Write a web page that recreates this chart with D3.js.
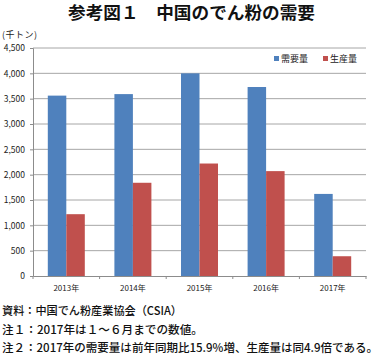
<!DOCTYPE html>
<html><head><meta charset="utf-8">
<script src="https://cdn.jsdelivr.net/npm/d3@7"></script>
<style>body{margin:0;background:#fff}svg{display:block}text{font-family:"Noto Sans CJK JP","Noto Sans",sans-serif}</style>
</head><body>
<script>
const categories = ["2013年","2014年","2015年","2016年","2017年"];
const seriesNames = ["需要量","生産量"];
const demand = [3560, 3590, 4000, 3730, 1620];
const production = [1220, 1840, 2220, 2070, 390];
const yTicks = [0,500,1000,1500,2000,2500,3000,3500,4000,4500];
const colors = ["#4F81BD","#C0504D"];
const title = "参考図１　中国のでん粉の需要";
const unit = "(千トン)";
const notes = ["資料：中国でん粉産業協会（CSIA）","注１：2017年は１～６月までの数値。","注２：2017年の需要量は前年同期比15.9%増、生産量は同4.9倍である。"];

const W=380,H=354;
const svg=d3.select("body").append("svg").attr("width",W).attr("height",H);
const m={l:33,r:366,t:48,b:276};
const x=d3.scaleBand().domain(categories).range([m.l,m.r]);
const xs=d3.scaleBand().domain(seriesNames).range([0,37]);
const y=d3.scaleLinear().domain([0,4500]).range([m.b,m.t]);

svg.append("text").attr("x",68).attr("y",19).attr("textLength",247).attr("lengthAdjust","spacingAndGlyphs")
  .attr("font-size",16.5).attr("font-weight","bold").attr("fill","#111").text(title);
svg.append("text").attr("x",2).attr("y",38).attr("font-size",9).attr("textLength",35).attr("fill","#222").text(unit);

// gridlines
svg.append("g").selectAll("line").data(yTicks.filter(d=>d>0)).join("line")
  .attr("x1",m.l).attr("x2",m.r).attr("y1",d=>y(d)).attr("y2",d=>y(d))
  .attr("stroke","#a6a6a6").attr("stroke-width",1);

// y axis
const ya=svg.append("g").attr("transform",`translate(${m.l},0)`)
  .call(d3.axisLeft(y).tickValues(yTicks).tickFormat(d3.format(",")).tickSize(3).tickPadding(5));
ya.select(".domain").attr("stroke","#8c8c8c");
ya.selectAll(".tick line").attr("stroke","#8c8c8c");
ya.selectAll("text").attr("font-size",8.5).attr("fill","#222").attr("font-family","Liberation Sans, Arial, sans-serif");

// bars
const data=categories.map((c,i)=>({c,vals:[demand[i],production[i]]}));
const g=svg.append("g");
data.forEach(d=>{
  d.vals.forEach((v,j)=>{
    g.append("rect").attr("x",x(d.c)+x.bandwidth()/2-18.5+xs(seriesNames[j]))
      .attr("width",xs.bandwidth()).attr("y",y(v)).attr("height",y(0)-y(v)).attr("fill",colors[j]);
  });
});

// x axis
const xa=svg.append("g").attr("transform",`translate(0,${m.b})`)
  .call(d3.axisBottom(x).tickSize(0).tickPadding(9));
xa.select(".domain").attr("stroke","#8c8c8c");
xa.selectAll("text").attr("font-size",8).attr("fill","#222");
svg.append("g").selectAll("line").data(d3.range(categories.length+1)).join("line")
  .attr("x1",i=>m.l+i*x.step()).attr("x2",i=>m.l+i*x.step()).attr("y1",m.b).attr("y2",m.b+3)
  .attr("stroke","#8c8c8c");

// legend
const lx=[274,323];
seriesNames.forEach((s,j)=>{
  svg.append("rect").attr("x",lx[j]).attr("y",56).attr("width",5).attr("height",5).attr("fill",colors[j]);
  svg.append("text").attr("x",lx[j]+7).attr("y",62).attr("font-size",9).attr("fill","#222").text(s);
});

// notes
const noteEnds=[182,203,378];
notes.forEach((t,i)=>{
  svg.append("text").attr("x",2).attr("y",315+i*18.5).attr("font-size",11.5).attr("font-weight",500).attr("fill","#111")
    .attr("textLength",noteEnds[i]-2).attr("lengthAdjust","spacingAndGlyphs").text(t);
});
</script>
</body></html>
